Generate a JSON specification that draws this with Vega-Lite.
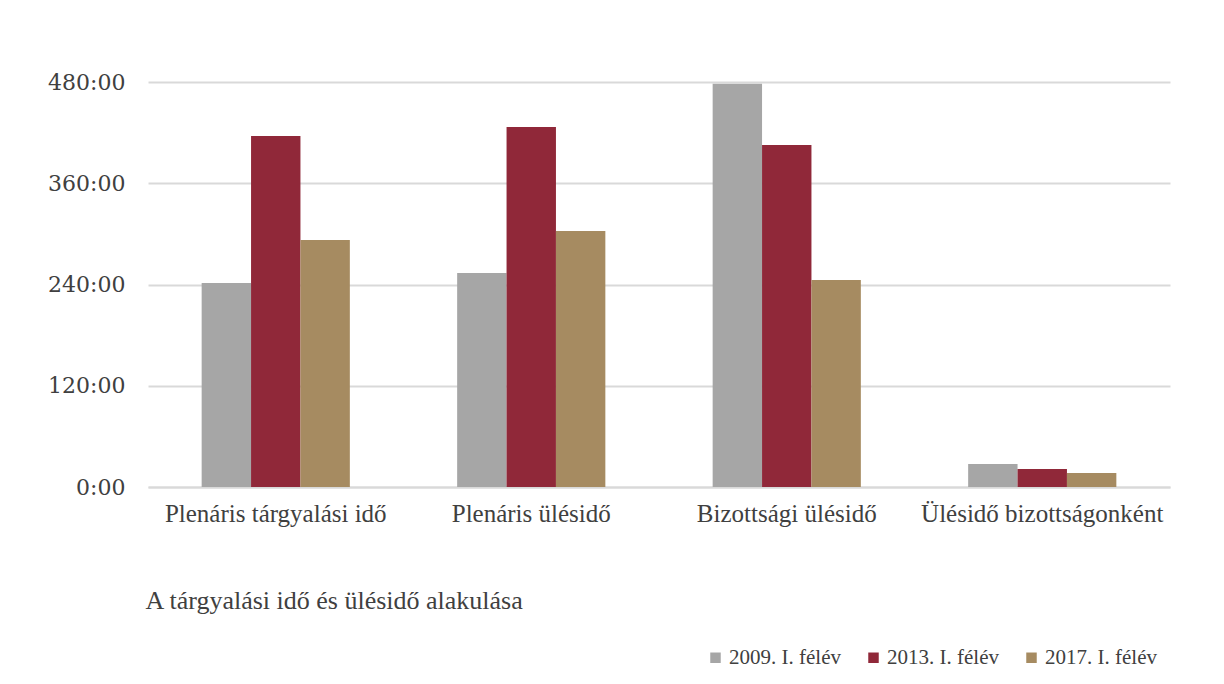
{
  "$schema": "https://vega.github.io/schema/vega-lite/v6.json",
  "width": 1022,
  "height": 405,
  "autosize": {"type": "none"},
  "padding": {"left": 148, "top": 82, "right": 54, "bottom": 197},
  "background": "white",
  "title": {
    "text": "A tárgyalási idő és ülésidő alakulása",
    "orient": "bottom",
    "anchor": "start",
    "offset": -80,
    "dx": 98,
    "font": "Liberation Serif",
    "fontSize": 26,
    "fontWeight": "normal",
    "color": "#404040"
  },
  "data": {
    "values": [
      {"kategoria": "Plenáris tárgyalási idő", "idoszak": "2009. I. félév", "ora": 241.8},
      {"kategoria": "Plenáris tárgyalási idő", "idoszak": "2013. I. félév", "ora": 416.0},
      {"kategoria": "Plenáris tárgyalási idő", "idoszak": "2017. I. félév", "ora": 292.8},
      {"kategoria": "Plenáris ülésidő", "idoszak": "2009. I. félév", "ora": 253.7},
      {"kategoria": "Plenáris ülésidő", "idoszak": "2013. I. félév", "ora": 426.8},
      {"kategoria": "Plenáris ülésidő", "idoszak": "2017. I. félév", "ora": 303.5},
      {"kategoria": "Bizottsági ülésidő", "idoszak": "2009. I. félév", "ora": 477.8},
      {"kategoria": "Bizottsági ülésidő", "idoszak": "2013. I. félév", "ora": 405.4},
      {"kategoria": "Bizottsági ülésidő", "idoszak": "2017. I. félév", "ora": 245.4},
      {"kategoria": "Ülésidő bizottságonként", "idoszak": "2009. I. félév", "ora": 27.3},
      {"kategoria": "Ülésidő bizottságonként", "idoszak": "2013. I. félév", "ora": 21.3},
      {"kategoria": "Ülésidő bizottságonként", "idoszak": "2017. I. félév", "ora": 16.6}
    ]
  },
  "mark": {"type": "bar"},
  "encoding": {
    "x": {
      "field": "kategoria",
      "type": "nominal",
      "sort": null,
      "title": null,
      "scale": {"paddingInner": 0.42, "paddingOuter": 0.21},
      "axis": {
        "labelAngle": 0,
        "labelLimit": 0,
        "ticks": false,
        "domainColor": "#d9d9d9",
        "domainWidth": 2,
        "labelFont": "Liberation Serif",
        "labelFontSize": 25,
        "labelColor": "#404040",
        "labelPadding": 14
      }
    },
    "xOffset": {"field": "idoszak", "type": "nominal", "sort": null},
    "y": {
      "field": "ora",
      "type": "quantitative",
      "title": null,
      "scale": {"domain": [0, 480]},
      "axis": {
        "values": [0, 120, 240, 360, 480],
        "labelExpr": "datum.value + ':00'",
        "ticks": false,
        "domain": false,
        "gridColor": "#d9d9d9",
        "gridWidth": 2,
        "labelFont": "DejaVu Serif",
        "labelFontSize": 22,
        "labelColor": "#404040",
        "labelPadding": 23
      }
    },
    "color": {
      "field": "idoszak",
      "type": "nominal",
      "sort": null,
      "title": null,
      "scale": {
        "domain": ["2009. I. félév", "2013. I. félév", "2017. I. félév"],
        "range": ["#a6a6a6", "#902839", "#a68b61"]
      },
      "legend": {
        "orient": "none",
        "legendX": 557,
        "legendY": 565,
        "direction": "horizontal",
        "symbolType": "square",
        "symbolSize": 110,
        "symbolStrokeWidth": 0,
        "labelFont": "Liberation Serif",
        "labelFontSize": 21,
        "labelColor": "#404040",
        "labelOffset": 3,
        "columnPadding": 22
      }
    }
  },
  "config": {
    "view": {"stroke": null}
  }
}
